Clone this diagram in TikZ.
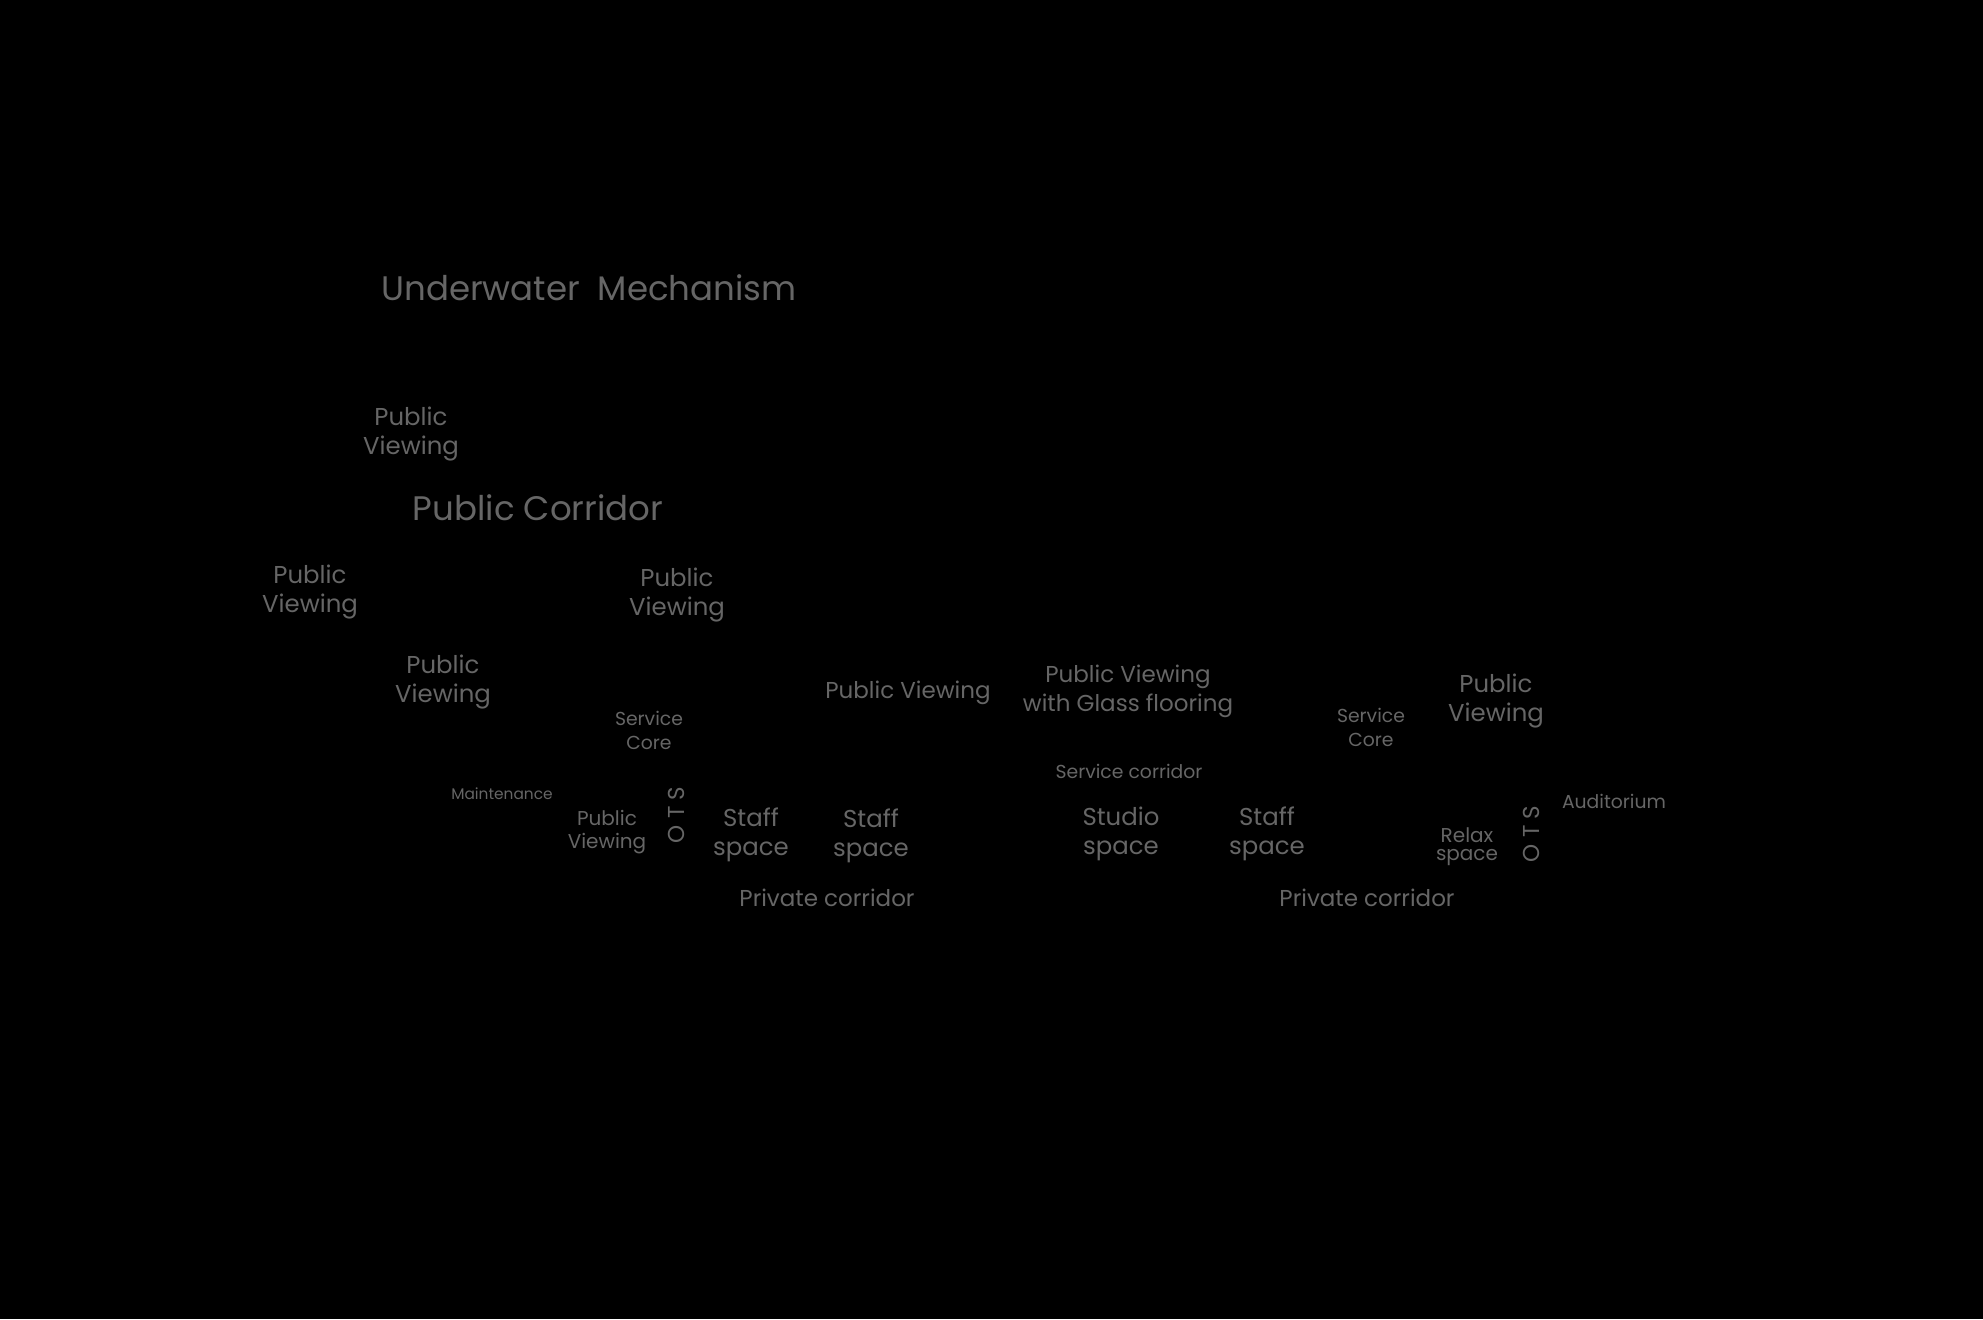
\documentclass[tikz,border=0pt]{standalone}
\usepackage{fontspec}
\setmainfont{Poppins}
\definecolor{labelgray}{RGB}{102,102,102}
\tikzset{
  lbl/.style={text=labelgray, align=center, inner sep=0pt},
  fsA/.style={font=\fontsize{17}{20}\selectfont},
  fsB/.style={font=\fontsize{12.2}{14.5}\selectfont},
  fsBn/.style={font=\fontsize{11.5}{14.5}\selectfont},
  fsC/.style={font=\fontsize{9.4}{12}\selectfont},
  fsD/.style={font=\fontsize{7.7}{9}\selectfont},
  fsE/.style={font=\fontsize{10}{11.5}\selectfont},
  fsR/.style={font=\fontsize{10}{9}\selectfont},
  otsstyle/.style={lbl, rotate=90, font=\fontsize{11.5}{13}\selectfont},
}
\begin{document}
\begin{tikzpicture}[x=0.5pt,y=-0.5pt]
\fill[black] (0,0) rectangle (1983,1319);
\useasboundingbox (0,0) rectangle (1983,1319);
\node[lbl,fsA] (title) at (589,288) {Underwater\ \ Mechanism};
\node[lbl,fsB] (pv1) at (411,434) {Public\\Viewing};
\node[lbl,fsA] (pcorr) at (538,508) {Public Corridor};
\node[lbl,fsB] (pv2) at (310,592) {Public\\Viewing};
\node[lbl,fsB] (pv3) at (677,595) {Public\\Viewing};
\node[lbl,fsB] (pv4) at (443,682) {Public\\Viewing};
\node[lbl,fsC] (sc1) at (649,730) {Service\\Core};
\node[lbl,fsBn] (pv5) at (908,693) {Public Viewing};
\node[lbl,fsBn] (pvg) at (1128,691) {Public Viewing\\with Glass flooring};
\node[lbl,fsC] (sc2) at (1371,727) {Service\\Core};
\node[lbl,fsB] (pv6) at (1496,701) {Public\\Viewing};
\node[lbl,fsC] (scorr) at (1129,771) {Service corridor};
\node[lbl,fsD] (maint) at (502,794) {Maintenance};
\node[lbl,fsE] (pv7) at (607,832) {Public\\Viewing};
\node[otsstyle] (ots1) at (676,815) {O T S};
\node[lbl,fsB] (st1) at (751,835) {Staff\\space};
\node[lbl,fsB] (st2) at (871,836) {Staff\\space};
\node[lbl,fsBn] (prc1) at (827,898) {Private corridor};
\node[lbl,fsB] (stu) at (1121,834) {Studio\\space};
\node[lbl,fsB] (st3) at (1267,834) {Staff\\space};
\node[lbl,fsR] (relax) at (1467,847) {Relax\\space};
\node[otsstyle] (ots2) at (1531,834) {O T S};
\node[lbl,fsC] (aud) at (1614,801) {Auditorium};
\node[lbl,fsBn] (prc2) at (1367,898) {Private corridor};
\end{tikzpicture}
\end{document}
